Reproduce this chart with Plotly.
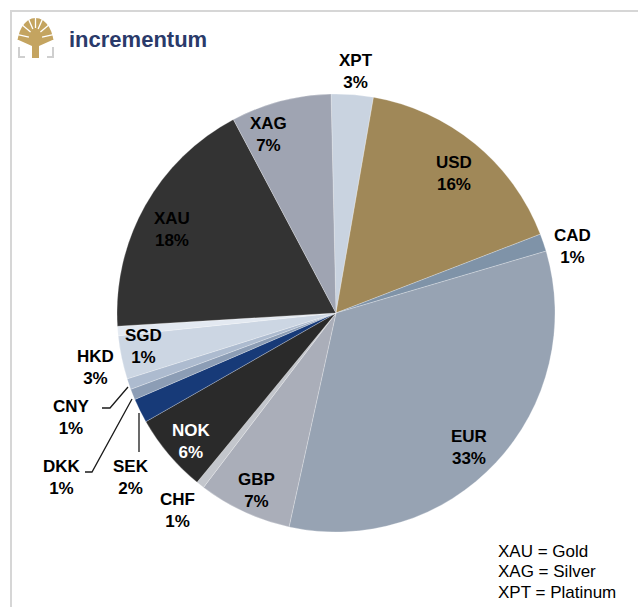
import math
import plotly.graph_objects as go

# ---------------- data ----------------
currencies = ["XPT", "USD", "CAD", "EUR", "GBP", "CHF", "NOK", "SEK",
              "DKK", "CNY", "HKD", "SGD", "XAU", "XAG"]
shares = [3.1, 16.4, 1.3, 33.0, 6.9, 0.6, 5.8, 1.8,
          0.8, 0.8, 3.2, 0.7, 18.2, 7.4]
legend_lines = ["XAU = Gold", "XAG = Silver", "XPT = Platinum"]
logo_text = "incrementum"

# ---------------- styling ----------------
W, H = 638, 607
colors = {
    "XPT": "#c9d3e0", "USD": "#a08858", "CAD": "#7f93a8", "EUR": "#97a3b3",
    "GBP": "#aaaeb9", "CHF": "#c3c6cc", "NOK": "#2a2a2a", "SEK": "#173a78",
    "DKK": "#8c9db5", "CNY": "#adbbcf", "HKD": "#ccd6e3", "SGD": "#e3e9f1",
    "XAU": "#333333", "XAG": "#9fa4b2",
}
# label centres in pixel space (x, y from top-left)
label_pos = {
    "XPT": (356, 71), "XAG": (268, 135), "USD": (454, 173), "CAD": (572, 247),
    "EUR": (469, 447), "GBP": (256, 490), "CHF": (177, 510), "NOK": (191, 441),
    "SEK": (131, 477), "DKK": (62, 477), "CNY": (71, 417), "HKD": (95, 367),
    "SGD": (143, 346), "XAU": (172, 229),
}
white_text = {"NOK"}
cx, cy, R = 336, 313, 219
start_angle = -1.3


def px(x):
    return x / W


def py(y):
    return 1 - y / H


fig = go.Figure(go.Pie(
    labels=currencies,
    values=shares,
    sort=False,
    direction="clockwise",
    rotation=start_angle,
    marker=dict(colors=[colors[c] for c in currencies],
                line=dict(color="rgba(255,255,255,0.5)", width=0.5)),
    textinfo="none",
    hoverinfo="label+percent",
    showlegend=False,
    domain=dict(x=[px(cx - R), px(cx + R)], y=[py(cy + R), py(cy - R)]),
))

annotations = []
for c, v in zip(currencies, shares):
    x, y = label_pos[c]
    annotations.append(dict(
        x=px(x), y=py(y), xref="paper", yref="paper",
        text=f"<b>{c}</b><br><b>{int(v + 0.5)}%</b>",
        showarrow=False, xanchor="center", yanchor="middle",
        font=dict(family="Liberation Sans, Arial", size=17,
                  color="white" if c in white_text else "#000000"),
    ))

for i, line in enumerate(legend_lines):
    annotations.append(dict(
        x=px(496), y=py(551 + 20.5 * i), xref="paper", yref="paper",
        text=line, showarrow=False, xanchor="left", yanchor="middle",
        font=dict(family="Liberation Sans, Arial", size=17, color="#000000"),
    ))

annotations.append(dict(
    x=px(67), y=py(40), xref="paper", yref="paper", text=logo_text,
    showarrow=False, xanchor="left", yanchor="middle",
    font=dict(family="Liberation Sans, Arial", size=22, color="#2a3a6a", weight="bold"),
))


def path(points, close=True):
    s = "M " + " L ".join(f"{px(x)},{py(y)}" for x, y in points)
    return s + (" Z" if close else "")


shapes = []
# frame
shapes.append(dict(type="line", xref="paper", yref="paper",
                   x0=px(10), y0=py(11), x1=px(638), y1=py(11),
                   line=dict(color="#d6d6d6", width=2)))
shapes.append(dict(type="line", xref="paper", yref="paper",
                   x0=px(11), y0=py(11), x1=px(11), y1=py(607),
                   line=dict(color="#d6d6d6", width=2)))
# leader lines
for pts in ([(102, 408), (110, 408), (128, 387)],
            [(85, 472), (92, 472), (132, 399)],
            [(139, 413), (139, 452)]):
    shapes.append(dict(type="path", xref="paper", yref="paper",
                       path=path(pts, close=False),
                       line=dict(color="#1a1a1a", width=1.3)))

# logo tree: dome canopy + trunk, with white branch gaps
gold = "#c4a460"
tcx, tcy = 35.5, 44
canopy = []
for k in range(0, 19):
    a = math.radians(200 - k * (220 / 18))
    canopy.append((tcx + 18 * math.cos(a), tcy - 26 * math.sin(a) if math.sin(a) > 0 else tcy - 26 * math.sin(a)))
canopy = [(x, min(y, 40)) for x, y in canopy]
tree = [(32, 58), (32, 46)] + canopy + [(39, 46), (39, 58), (41, 58)]
shapes.append(dict(type="path", xref="paper", yref="paper", path=path(tree),
                   fillcolor=gold, line=dict(width=0)))
for ang in (160, 135, 112, 90, 68, 45, 20):
    a = math.radians(ang)
    shapes.append(dict(type="line", xref="paper", yref="paper",
                       x0=px(tcx + 7 * math.cos(a)), y0=py(tcy - 14 * math.sin(a) - 2),
                       x1=px(tcx + 20 * math.cos(a)), y1=py(tcy - 28 * math.sin(a)),
                       line=dict(color="white", width=1.3)))
for pts in ([(19, 47), (19, 57), (25, 57)], [(53, 47), (53, 57), (47, 57)]):
    shapes.append(dict(type="path", xref="paper", yref="paper",
                       path=path(pts, close=False),
                       line=dict(color="#cfcfcf", width=2)))

fig.update_layout(
    width=W, height=H,
    margin=dict(l=0, r=0, t=0, b=0),
    paper_bgcolor="white", plot_bgcolor="white",
    annotations=annotations, shapes=shapes,
)

fig.write_html("out.html", config={"displayModeBar": False},
               post_script="document.body.style.margin='0';document.body.style.overflow='hidden';")
